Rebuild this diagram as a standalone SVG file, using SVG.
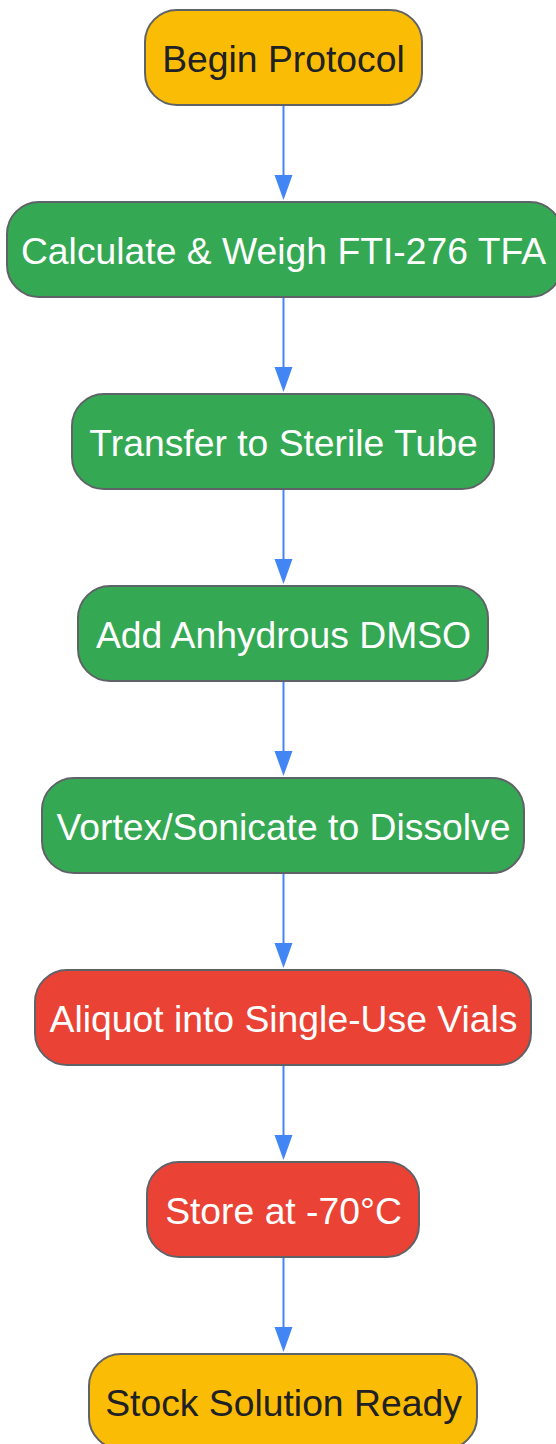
<svg xmlns="http://www.w3.org/2000/svg" width="556" height="1444" viewBox="0 0 556 1444">
<style>
.n rect{stroke:#5f6368;stroke-width:2}
.y rect{fill:#FBBC05}
.g rect{fill:#34A853}
.r rect{fill:#EA4335}
.n text{font-family:"Liberation Sans",Arial,sans-serif;font-size:37.3px;text-anchor:middle}
.y text{fill:#202124}
.g text,.r text{fill:#ffffff}
#edges line{stroke:#4285F4;stroke-width:2}
#edges polygon{fill:#4285F4}
</style>
<rect width="556" height="1444" fill="#ffffff"/>
<g id="edges">
<line x1="283.5" y1="106" x2="283.5" y2="178"/><polygon points="274.5,175 292.5,175 283.5,200"/>
<line x1="283.5" y1="298" x2="283.5" y2="370"/><polygon points="274.5,367 292.5,367 283.5,392"/>
<line x1="283.5" y1="490" x2="283.5" y2="562"/><polygon points="274.5,559 292.5,559 283.5,584"/>
<line x1="283.5" y1="682" x2="283.5" y2="754"/><polygon points="274.5,751 292.5,751 283.5,776"/>
<line x1="283.5" y1="874" x2="283.5" y2="946"/><polygon points="274.5,943 292.5,943 283.5,968"/>
<line x1="283.5" y1="1066" x2="283.5" y2="1138"/><polygon points="274.5,1135 292.5,1135 283.5,1160"/>
<line x1="283.5" y1="1258" x2="283.5" y2="1330"/><polygon points="274.5,1327 292.5,1327 283.5,1352"/>
</g>
<g id="n1" class="n y"><rect x="145" y="10" width="277" height="95" rx="32"/><text x="283.5" y="71.5">Begin Protocol</text></g>
<g id="n2" class="n g"><rect x="7" y="202" width="555" height="95" rx="32"/><text x="283.5" y="263.5">Calculate &amp; Weigh FTI-276 TFA</text></g>
<g id="n3" class="n g"><rect x="72" y="394" width="422" height="95" rx="32"/><text x="283.5" y="455.5">Transfer to Sterile Tube</text></g>
<g id="n4" class="n g"><rect x="78" y="586" width="410" height="95" rx="32"/><text x="283.5" y="647.5">Add Anhydrous DMSO</text></g>
<g id="n5" class="n g"><rect x="42" y="778" width="482" height="95" rx="32"/><text x="283.5" y="839.5">Vortex/Sonicate to Dissolve</text></g>
<g id="n6" class="n r"><rect x="35" y="970" width="496" height="95" rx="32"/><text x="283.5" y="1031.5">Aliquot into Single-Use Vials</text></g>
<g id="n7" class="n r"><rect x="147" y="1162" width="272" height="95" rx="32"/><text x="283.5" y="1223.5">Store at -70°C</text></g>
<g id="n8" class="n y"><rect x="89" y="1354" width="388" height="95" rx="32"/><text x="283.5" y="1415.5">Stock Solution Ready</text></g>
</svg>
